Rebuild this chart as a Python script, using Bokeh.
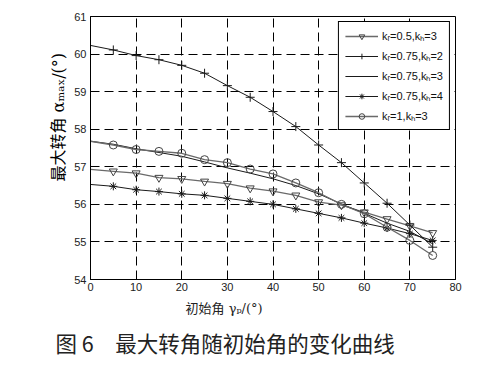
from bokeh.plotting import figure
from bokeh.models import Range1d, FixedTicker, Title
from bokeh.embed import file_html
from bokeh.resources import INLINE

# ---- data ----
x_vals = [0, 5, 10, 15, 20, 25, 30, 35, 40, 45, 50, 55, 60, 65, 70, 75]
kr05_kh3 = [56.93, 56.88, 56.83, 56.71, 56.68, 56.61, 56.55, 56.43, 56.35, 56.24, 56.06, 55.98, 55.79, 55.61, 55.43, 55.24]
kr075_kh2 = [60.23, 60.11, 59.96, 59.85, 59.70, 59.49, 59.16, 58.85, 58.47, 58.07, 57.58, 57.11, 56.57, 56.03, 55.45, 54.86]
kr075_kh3 = [57.68, 57.60, 57.48, 57.38, 57.28, 57.13, 56.97, 56.83, 56.68, 56.50, 56.28, 56.01, 55.76, 55.50, 55.28, 54.95]
kr075_kh4 = [56.53, 56.48, 56.39, 56.34, 56.28, 56.24, 56.16, 56.08, 56.00, 55.88, 55.76, 55.64, 55.50, 55.37, 55.22, 55.04]
kr1_kh3 = [57.68, 57.58, 57.46, 57.41, 57.36, 57.19, 57.11, 56.94, 56.81, 56.57, 56.31, 56.00, 55.75, 55.39, 55.04, 54.64]

x_ticks = [0, 10, 20, 30, 40, 50, 60, 70, 80]
y_ticks = [54, 55, 56, 57, 58, 59, 60, 61]

labels = ["k\u1d63=0.5,k\u2095=3", "k\u1d63=0.75,k\u2095=2", "k\u1d63=0.75,k\u2095=3",
          "k\u1d63=0.75,k\u2095=4", "k\u1d63=1,k\u2095=3"]

x_label = "初始角 γ\u209a/(°)"
y_label = "最大转角 α\u2098\u2090\u2093/(°)"
caption = "图 6\u3000最大转角随初始角的变化曲线"

p = figure(width=473, height=373, x_range=Range1d(0, 80), y_range=Range1d(54, 61),
           output_backend="svg", toolbar_location=None,
           min_border_left=90, min_border_right=18, min_border_top=16, min_border_bottom=94)
p.background_fill_color = "white"
p.border_fill_color = "white"
p.outline_line_color = "black"
p.outline_line_width = 1
p.outline_line_alpha = 1

for ax, ticks in ((p.xaxis, x_ticks), (p.yaxis, y_ticks)):
    ax.ticker = FixedTicker(ticks=ticks)
    ax.axis_line_color = "black"
    ax.major_tick_line_color = "black"
    ax.major_tick_in = 4
    ax.major_tick_out = 0
    ax.minor_tick_line_color = None
    ax.major_label_text_font = "Liberation Sans"
    ax.major_label_text_font_size = "11px"
    ax.major_label_text_color = "#222222"
p.xaxis.major_label_standoff = 3
p.yaxis.major_label_standoff = 4

p.grid.grid_line_color = "black"
p.grid.grid_line_alpha = 1
p.grid.grid_line_width = 1
p.grid.grid_line_dash = "9 5"

gray = "#6a6a6a"
dark = "#1a1a1a"

# series
p.line(x_vals, kr05_kh3, line_color=gray, line_width=1.3, legend_label=labels[0])
p.scatter(x_vals[1:], kr05_kh3[1:], marker="inverted_triangle", size=8, fill_color=None,
          line_color="#444444", line_width=1, legend_label=labels[0])

p.line(x_vals, kr075_kh2, line_color=dark, line_width=1, legend_label=labels[1])
p.scatter(x_vals[1:], kr075_kh2[1:], marker="cross", size=9, line_color=dark,
          line_width=1, legend_label=labels[1])

p.line(x_vals, kr075_kh3, line_color=dark, line_width=1, legend_label=labels[2])

p.line(x_vals, kr075_kh4, line_color=dark, line_width=1, legend_label=labels[3])
p.scatter(x_vals[1:], kr075_kh4[1:], marker="asterisk", size=8, line_color=dark,
          line_width=1, legend_label=labels[3])

p.line(x_vals, kr1_kh3, line_color=gray, line_width=1.3, legend_label=labels[4])
p.scatter(x_vals[1:], kr1_kh3[1:], marker="circle", size=8, fill_color=None,
          line_color="#444444", line_width=1, legend_label=labels[4])

lg = p.legend[0]
lg.location = "top_right"
lg.margin = 5
lg.padding = 6
lg.spacing = 5
lg.glyph_width = 33
lg.glyph_height = 14
lg.label_height = 14
lg.label_standoff = 4
lg.label_text_font = "Liberation Sans"
lg.label_text_font_size = "11px"
lg.label_text_color = "#111111"
lg.border_line_color = "black"
lg.border_line_width = 1
lg.border_line_alpha = 1
lg.background_fill_alpha = 1

# ---- axis labels and caption as titles ----
serif_cjk = "DejaVu Serif, Noto Sans CJK SC"
p.add_layout(Title(text=x_label, align="left", offset=95, standoff=11,
                   text_font=serif_cjk, text_font_size="13px", text_font_style="normal",
                   text_color="#222222"), "below")
p.add_layout(Title(text=caption, align="left", offset=-35, standoff=6,
                   text_font="Noto Sans CJK SC", text_font_size="21.5px", text_font_style="normal",
                   text_color="#222222"), "below")
p.add_layout(Title(text=y_label, align="left", offset=98, standoff=8,
                   text_font=serif_cjk, text_font_size="16px", text_font_style="normal",
                   text_color="black"), "left")

open("out.html", "w").write(file_html(p, INLINE))
